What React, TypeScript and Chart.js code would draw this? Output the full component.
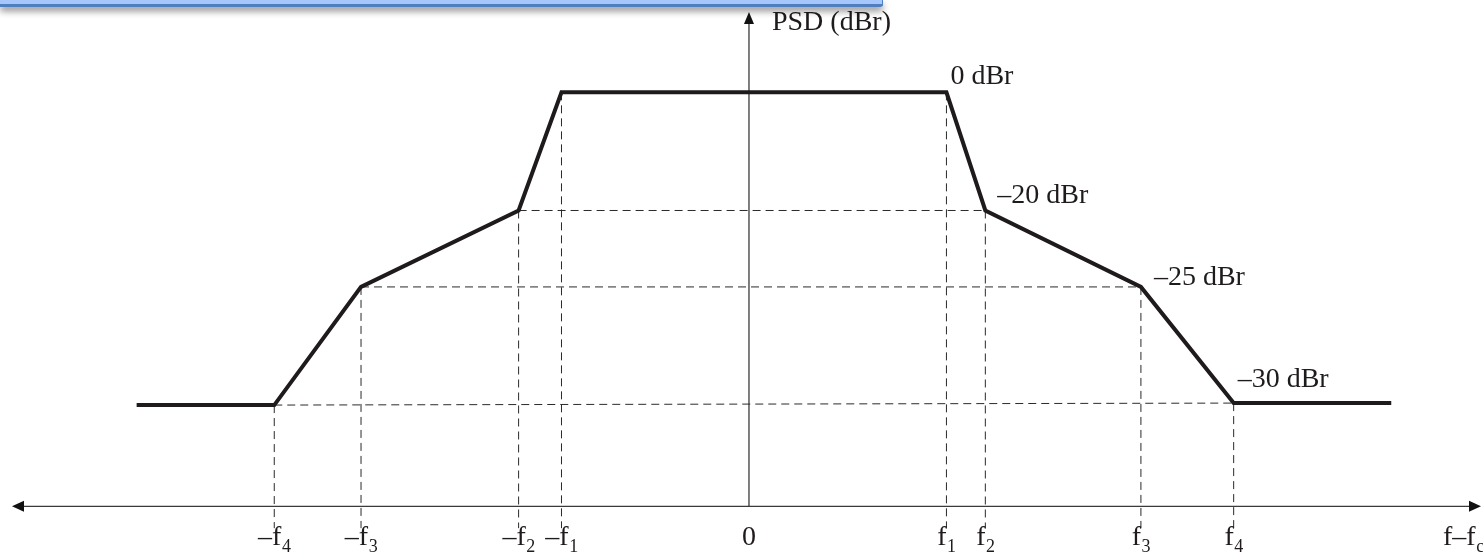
import React, { useEffect, useRef } from "react";
import { Chart, registerables } from "chart.js";

Chart.register(...registerables);

// ---- data (schematic units) ----
// frequency offset of each corner of the mask (schematic units, 0 = carrier)
const curveFreq = [-30.7, -23.8, -19.45, -11.55, -9.4, 9.9, 11.85, 19.65, 24.3, 32.2];
// drawn height of each corner (schematic units above the frequency axis)
const curveHeight = [20.4, 20.4, 44.2, 59.6, 83.4, 83.4, 59.6, 44.2, 20.8, 20.8];

// level annotations (dBr) and the corner they are attached to
const levelDbr = [0, -20, -25, -30];
const levelCorner = [5, 6, 7, 8];
const levelOffsetX = [4, 12, 13, 4];
const levelOffsetY = [-8, -7, -2, -16];

// frequency tick labels
const tickFreq = [-23.8, -19.45, -11.55, -9.4, 0, 9.9, 11.85, 19.65, 24.3];
const tickBase = ["\u2013f", "\u2013f", "\u2013f", "\u2013f", "0", "f", "f", "f", "f"];
const tickSub = ["4", "3", "2", "1", "", "1", "2", "3", "4"];

// dashed guides: horizontal between corner pairs, vertical from corners down
const guidePairs = [
  [1, 8],
  [2, 7],
  [3, 6],
];
const guideVerticalCorners = [1, 2, 3, 4, 5, 6, 7, 8];
const guideBottom = -4.4;

// axes extents
const xMin = -37.45;
const xMax = 36.7;
const yMin = -9.4;
const yMax = 101.6;
const xAxisFrom = -36.95;
const xAxisTo = 36.7;
const yAxisTop = 99.6;

const yTitle = "PSD (dBr)";
const xTitleBase = "f\u2013f";
const xTitleSub = "c";

const INK = "#1f1b1c";
const GUIDE = "#2a2a2a";
const AXIS = "#3a3a3a";
const FONT = '"Liberation Serif", "Times New Roman", serif';

function fmtLevel(v: number) {
  return v === 0 ? "0 dBr" : "\u2013" + Math.abs(v) + " dBr";
}

const annotate = {
  id: "annotate",
  beforeDatasetsDraw(chart: any) {
    const { ctx, scales } = chart;
    const x = scales.x;
    const y = scales.y;
    const x0 = x.getPixelForValue(0);
    const y0 = y.getPixelForValue(0);
    ctx.save();
    ctx.strokeStyle = AXIS;
    ctx.fillStyle = "#111";
    ctx.lineWidth = 1.3;
    // x axis
    const xl = x.getPixelForValue(xAxisFrom);
    const xr = x.getPixelForValue(xAxisTo);
    ctx.beginPath();
    ctx.moveTo(xl + 8, y0);
    ctx.lineTo(xr - 8, y0);
    ctx.stroke();
    // arrows
    ctx.beginPath();
    ctx.moveTo(xl, y0);
    ctx.lineTo(xl + 12, y0 - 5.5);
    ctx.lineTo(xl + 12, y0 + 5.5);
    ctx.closePath();
    ctx.fill();
    ctx.beginPath();
    ctx.moveTo(xr, y0);
    ctx.lineTo(xr - 12, y0 - 5.5);
    ctx.lineTo(xr - 12, y0 + 5.5);
    ctx.closePath();
    ctx.fill();
    // y axis
    const yt = y.getPixelForValue(yAxisTop);
    ctx.beginPath();
    ctx.moveTo(x0, y0);
    ctx.lineTo(x0, yt + 8);
    ctx.stroke();
    ctx.beginPath();
    ctx.moveTo(x0, yt);
    ctx.lineTo(x0 - 5, yt + 12);
    ctx.lineTo(x0 + 5, yt + 12);
    ctx.closePath();
    ctx.fill();
    ctx.restore();
  },
  afterDatasetsDraw(chart: any) {
    const { ctx, scales } = chart;
    const x = scales.x;
    const y = scales.y;
    const x0 = x.getPixelForValue(0);
    const y0 = y.getPixelForValue(0);
    ctx.save();
    ctx.fillStyle = INK;
    ctx.textBaseline = "alphabetic";
    ctx.textAlign = "left";
    const big = "28px " + FONT;
    const small = "18px " + FONT;
    // tick labels
    for (let i = 0; i < tickFreq.length; i++) {
      ctx.font = big;
      const wb = ctx.measureText(tickBase[i]).width;
      ctx.font = small;
      const ws = tickSub[i] ? ctx.measureText(tickSub[i]).width : 0;
      const px = x.getPixelForValue(tickFreq[i]);
      const start = px - (wb + ws) / 2;
      ctx.font = big;
      ctx.fillText(tickBase[i], start, y0 + 39);
      if (tickSub[i]) {
        ctx.font = small;
        ctx.fillText(tickSub[i], start + wb + 0.5, y0 + 46);
      }
    }
    // x title
    ctx.font = big;
    const xt = x.getPixelForValue(xAxisTo) - 38;
    const wbt = ctx.measureText(xTitleBase).width;
    ctx.fillText(xTitleBase, xt, y0 + 39);
    ctx.font = small;
    ctx.fillText(xTitleSub, xt + wbt + 0.5, y0 + 46);
    // level labels
    ctx.font = big;
    for (let i = 0; i < levelDbr.length; i++) {
      const c = levelCorner[i];
      const px = x.getPixelForValue(curveFreq[c]);
      const py = y.getPixelForValue(curveHeight[c]);
      ctx.fillText(fmtLevel(levelDbr[i]), px + levelOffsetX[i], py + levelOffsetY[i]);
    }
    // y title
    const yt = y.getPixelForValue(yAxisTop);
    ctx.fillText(yTitle, x0 + 23, yt + 18);
    ctx.restore();
  },
};

export default function App() {
  const ref = useRef<HTMLCanvasElement | null>(null);
  useEffect(() => {
    if (!ref.current) return;
    const curve = curveFreq.map((f, i) => ({ x: f, y: curveHeight[i] }));
    const guideStyle = {
      borderColor: GUIDE,
      borderWidth: 1,
      borderDash: [8, 5],
      pointRadius: 0,
      showLine: true,
      fill: false,
      tension: 0,
    };
    const horiz = guidePairs.map(([a, b]) => ({
      ...guideStyle,
      data: [
        { x: curveFreq[a], y: curveHeight[a] },
        { x: curveFreq[b], y: curveHeight[b] },
      ],
    }));
    const vert = guideVerticalCorners.map((c) => ({
      ...guideStyle,
      data: [
        { x: curveFreq[c], y: curveHeight[c] },
        { x: curveFreq[c], y: guideBottom },
      ],
    }));
    const chart = new Chart(ref.current, {
      type: "scatter",
      data: {
        datasets: [
          {
            data: curve,
            showLine: true,
            borderColor: INK,
            borderWidth: 4,
            pointRadius: 0,
            tension: 0,
            fill: false,
            borderJoinStyle: "miter",
            borderCapStyle: "butt",
          } as any,
          ...horiz,
          ...vert,
        ],
      },
      options: {
        animation: false,
        responsive: false,
        maintainAspectRatio: false,
        layout: { padding: 0 },
        plugins: {
          legend: { display: false },
          tooltip: { enabled: false },
          title: { display: false },
        },
        scales: {
          x: { type: "linear", min: xMin, max: xMax, display: false },
          y: { type: "linear", min: yMin, max: yMax, display: false },
        },
      },
      plugins: [annotate],
    } as any);
    let alive = true;
    if ((document as any).fonts && (document as any).fonts.load) {
      (document as any).fonts
        .load('28px "Liberation Serif"')
        .then(() => {
          if (alive) chart.update();
        })
        .catch(() => {});
    }
    return () => {
      alive = false;
      chart.destroy();
    };
  }, []);
  return (
    <div
      style={{
        position: "fixed",
        left: 0,
        top: 0,
        width: 1483,
        height: 555,
        background: "#ffffff",
        overflow: "hidden",
      }}
    >
      <canvas
        ref={ref}
        width={1483}
        height={555}
        style={{ display: "block", width: 1483, height: 555 }}
      />
      <div
        style={{
          position: "absolute",
          left: 0,
          top: 0,
          width: 882,
          height: 4,
          background: "#a6c7fb",
          borderBottom: "3px solid #4f7fbf",
          borderRight: "1.5px solid #4f7fbf",
          borderBottomRightRadius: 3,
          boxShadow: "0 4px 7px rgba(0,0,0,0.45)",
        }}
      />
    </div>
  );
}
